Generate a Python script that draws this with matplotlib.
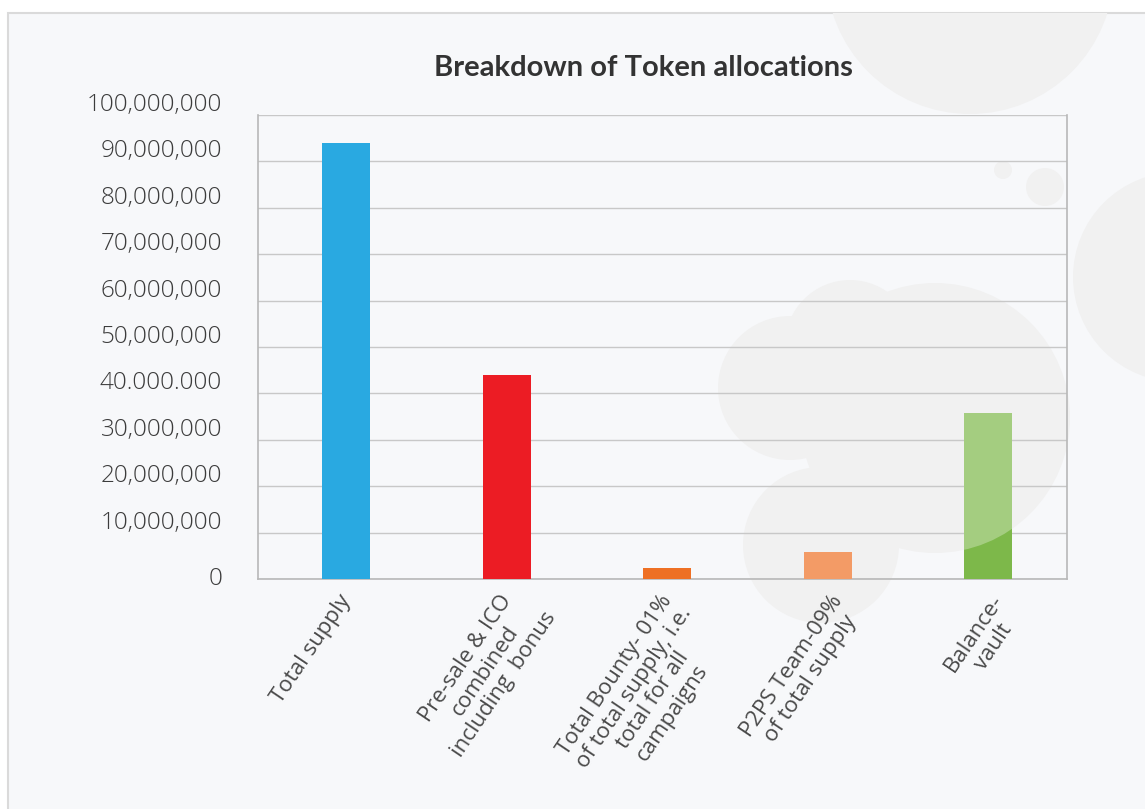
import matplotlib
matplotlib.use('Agg')
import matplotlib.pyplot as plt
from matplotlib.patches import Rectangle, PathPatch, Circle
from matplotlib.path import Path
from matplotlib.transforms import Affine2D, ScaledTranslation
import numpy as np

# data
categories = ['Total supply',
              'Pre-sale & ICO\ncombined\nincluding  bonus',
              'Total Bounty- 01%\nof total supply, i.e.\ntotal for all\ncampaigns',
              'P2PS Team-09%\nof total supply',
              'Balance-\nvault']
values = [94000000, 44000000, 2300000, 5800000, 35700000]
colors = ['#29a9e1', '#ec1c24', '#ee7024', '#ee7024', '#7db84a']
ytick_values = [0, 10000000, 20000000, 30000000, 40000000, 50000000,
                60000000, 70000000, 80000000, 90000000, 100000000]
ytick_labels = ['0', '10,000,000', '20,000,000', '30,000,000', '40.000.000',
                '50,000,000', '60,000,000', '70,000,000', '80,000,000',
                '90,000,000', '100,000,000']

W, H = 1145, 809
fig = plt.figure(figsize=(W / 100, H / 100), dpi=100)
fig.patch.set_facecolor('white')
px = Affine2D().scale(1, -1).translate(0, H)  # pixel coords, origin top-left

# card background
card = Rectangle((8, 13), W, H, transform=px, facecolor='#f7f8fa',
                 edgecolor='#dadada', lw=1.5, zorder=-3)
fig.add_artist(card)

# decorative circles
deco = [(970, -30, 144), (1178, 277, 105), (1003, 170, 9), (1045, 187, 19)]
for cx, cy, r in deco:
    c = Circle((cx, cy), r, transform=px, facecolor='#f1f1f1',
               edgecolor='none', zorder=-2)
    fig.add_artist(c)
    c.set_clip_path(card)

cloud = [(935, 418, 135), (790, 388, 72), (850, 345, 65), (821, 545, 78)]
cloud_path = Path.make_compound_path(*[Path.circle((cx, cy), r) for cx, cy, r in cloud])
fig.add_artist(PathPatch(cloud_path, transform=px, facecolor='#f1f1f1',
                         edgecolor='none', zorder=-2))

ax = fig.add_axes([258 / W, 1 - 579 / H, (1067 - 258) / W, (579 - 115) / H])
ax.patch.set_alpha(0)
ax.set_zorder(2)

x = np.arange(len(values))
bars = ax.bar(x, values, width=0.3, color=colors, zorder=3)

# cloud drawn over the bars as a light veil
for b in bars:
    veil = PathPatch(cloud_path, transform=px, facecolor='white', alpha=0.3,
                     edgecolor='none', zorder=4)
    ax.add_artist(veil)
    veil.set_clip_path(b)

ax.set_xlim(-0.55, 4.49)
ax.set_ylim(0, 100000000)
ax.set_yticks(ytick_values)
ax.set_xticks(x)
ax.grid(axis='y', color='#c8c8c8', lw=1)
ax.set_axisbelow(True)
ax.tick_params(length=0, labelleft=False, labelbottom=False)
ax.spines['top'].set_visible(False)
for s in ['left', 'right', 'bottom']:
    ax.spines[s].set_color('#b8b8b8')
    ax.spines[s].set_linewidth(1.2)

# y labels sit a little above their gridlines
for v, lab in zip(ytick_values, ytick_labels):
    dy = 0 if v == 0 else 10
    ax.text(0, v, lab, transform=ax.get_yaxis_transform() +
            ScaledTranslation(-0.36, dy / 100, fig.dpi_scale_trans),
            ha='right', va='center', fontsize=17.5, color='#3c3c3c',
            family='Open Sans', weight='light')

# x labels: first line ends near the tick, other lines centred on it
renderer = fig.canvas.get_renderer()
ang = 56
nudge = [0, 0, 0, 10, 10]
lab_kw = dict(fontsize=16, color='#4a4a4a', family='Open Sans')
for i, lab in enumerate(categories):
    t = fig.text(0, 0, lab.split('\n')[0], **lab_kw)
    w1 = t.get_window_extent(renderer).width
    t.remove()
    dx = -8 + nudge[i] - w1 / 2 * np.cos(np.radians(ang))
    dy = -12 - w1 / 2 * np.sin(np.radians(ang))
    ax.text(i, 0, lab, transform=ax.get_xaxis_transform() +
            ScaledTranslation(dx / 100, dy / 100, fig.dpi_scale_trans),
            ha='center', va='top', rotation=ang, rotation_mode='anchor',
            multialignment='center', linespacing=1.12, **lab_kw)

fig.text(643 / W, 1 - 68 / H, 'Breakdown of Token allocations', ha='center',
         va='center', fontsize=21, weight='bold', family='Lato', color='#333333')

fig.savefig('out.png', dpi=100, facecolor=fig.get_facecolor())
